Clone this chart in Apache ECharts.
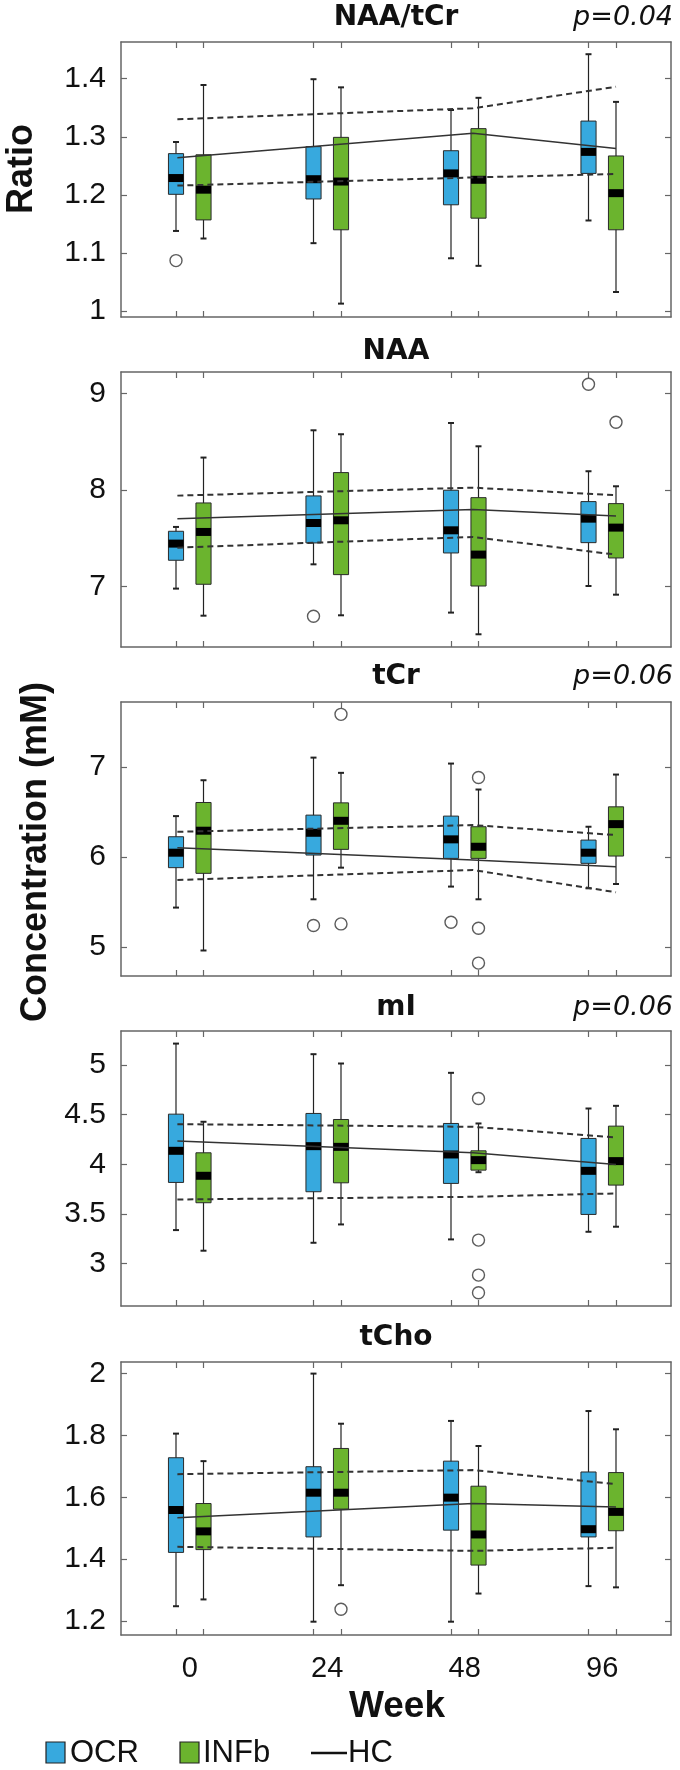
<!DOCTYPE html>
<html><head><meta charset="utf-8">
<script src="https://cdn.jsdelivr.net/npm/echarts@6/dist/echarts.min.js"></script>
<style>html,body{margin:0;padding:0;background:#fff}#c{width:680px;height:1770px}</style>
</head><body><div id="c"></div>
<script>
// ---------- DATA ----------
const weeks = ['0', '24', '48', '96'];
const panelTitles = ['NAA/tCr', 'NAA', 'tCr', 'mI', 'tCho'];
const pValues = ['p=0.04', '', 'p=0.06', 'p=0.06', ''];
const yTicks = [[1, 1.1, 1.2, 1.3, 1.4], [7, 8, 9], [5, 6, 7], [3, 3.5, 4, 4.5, 5], [1.2, 1.4, 1.6, 1.8, 2]];
const yMin = [0.99, 6.37, 4.68, 2.57, 1.155];
const yMax = [1.463, 9.224, 7.72, 5.345, 2.0375];

// box stats per week: [lower whisker, Q1, median, Q3, upper whisker]
const ocrNaaTcr = [[1.138, 1.201, 1.229, 1.271, 1.291], [1.117, 1.193, 1.227, 1.283, 1.399], [1.091, 1.183, 1.237, 1.276, 1.346], [1.156, 1.237, 1.274, 1.327, 1.442]];
const infNaaTcr = [[1.125, 1.157, 1.209, 1.269, 1.389], [1.013, 1.140, 1.223, 1.299, 1.385], [1.078, 1.160, 1.226, 1.314, 1.367], [1.033, 1.140, 1.203, 1.267, 1.360]];
const ocrNaa = [[6.976, 7.270, 7.443, 7.571, 7.616], [7.228, 7.450, 7.657, 7.938, 8.619], [6.727, 7.346, 7.581, 7.997, 8.695], [7.003, 7.453, 7.702, 7.879, 8.194]];
const infNaa = [[6.695, 7.021, 7.564, 7.865, 8.336], [6.699, 7.121, 7.685, 8.180, 8.578], [6.502, 7.003, 7.329, 7.920, 8.453], [6.913, 7.294, 7.609, 7.858, 8.038]];
const ocrTcr = [[5.439, 5.882, 6.048, 6.225, 6.454], [5.531, 6.022, 6.269, 6.465, 7.103], [5.672, 5.985, 6.196, 6.454, 7.037], [5.653, 5.930, 6.048, 6.188, 6.336]];
const infTcr = [[4.963, 5.819, 6.292, 6.605, 6.852], [5.882, 6.085, 6.402, 6.601, 6.934], [5.531, 5.985, 6.114, 6.336, 6.749], [5.701, 6.011, 6.365, 6.557, 6.915]];
const ocrMi = [[3.336, 3.817, 4.136, 4.506, 5.218], [3.208, 3.723, 4.183, 4.513, 5.111], [3.242, 3.807, 4.099, 4.412, 4.923], [3.319, 3.494, 3.934, 4.261, 4.563]];
const infMi = [[3.128, 3.612, 3.884, 4.116, 4.429], [3.393, 3.813, 4.176, 4.452, 5.017], [3.920, 3.941, 4.042, 4.136, 4.412], [3.370, 3.790, 4.032, 4.385, 4.590]];
const ocrTcho = [[1.248, 1.422, 1.559, 1.728, 1.806], [1.198, 1.472, 1.615, 1.699, 2.000], [1.198, 1.494, 1.599, 1.717, 1.847], [1.313, 1.472, 1.497, 1.682, 1.879]];
const infTcho = [[1.270, 1.431, 1.490, 1.580, 1.717], [1.316, 1.562, 1.615, 1.758, 1.838], [1.289, 1.381, 1.480, 1.636, 1.766], [1.309, 1.492, 1.553, 1.680, 1.820]];

// outliers: [week index, value]
const ocrNaaTcrOut = [[0, 1.087]];
const infNaaTcrOut = [];
const ocrNaaOut = [[1, 6.689], [3, 9.097]];
const infNaaOut = [[3, 8.702]];
const ocrTcrOut = [[1, 5.240], [2, 5.277]];
const infTcrOut = [[1, 7.583], [1, 5.258], [2, 6.882], [2, 5.210], [2, 4.823]];
const ocrMiOut = [];
const infMiOut = [[2, 4.664], [2, 3.235], [2, 2.882], [2, 2.704]];
const ocrTchoOut = [];
const infTchoOut = [[1, 1.238]];

// healthy controls: mean and mean±SD at three positions along the week axis
const hcX = [-0.09, 2.06, 3.1];
const hcMeanNaaTcr = [1.264, 1.306, 1.280], hcUpNaaTcr = [1.330, 1.349, 1.386], hcLoNaaTcr = [1.216, 1.230, 1.236];
const hcMeanNaa = [7.702, 7.796, 7.730], hcUpNaa = [7.941, 8.024, 7.945], hcLoNaa = [7.401, 7.512, 7.329];
const hcMeanTcr = [6.103, 5.967, 5.893], hcUpTcr = [6.280, 6.354, 6.244], hcLoTcr = [5.745, 5.856, 5.609];
const hcMeanMi = [4.234, 4.116, 3.998], hcUpMi = [4.405, 4.378, 4.271], hcLoMi = [3.645, 3.672, 3.706];
const hcMeanTcho = [1.534, 1.580, 1.569], hcUpTcho = [1.675, 1.688, 1.643], hcLoTcho = [1.440, 1.427, 1.437];

// ---------- LAYOUT / STYLE ----------
const panelsOCR = [ocrNaaTcr, ocrNaa, ocrTcr, ocrMi, ocrTcho];
const panelsINF = [infNaaTcr, infNaa, infTcr, infMi, infTcho];
const panelsOCROut = [ocrNaaTcrOut, ocrNaaOut, ocrTcrOut, ocrMiOut, ocrTchoOut];
const panelsINFOut = [infNaaTcrOut, infNaaOut, infTcrOut, infMiOut, infTchoOut];
const panelsHCMean = [hcMeanNaaTcr, hcMeanNaa, hcMeanTcr, hcMeanMi, hcMeanTcho];
const panelsHCUp = [hcUpNaaTcr, hcUpNaa, hcUpTcr, hcUpMi, hcUpTcho];
const panelsHCLo = [hcLoNaaTcr, hcLoNaa, hcLoTcr, hcLoMi, hcLoTcho];

const gridTops = [42, 372, 702, 1031, 1362];
const gridHeights = [275, 275, 274, 275, 273];
const titleY = [18, 352, 677, 1008, 1338];
const GRID_LEFT = 121, GRID_RIGHT = 9;
const OFFSET = 0.1, BOX_W = 0.11;
const BLUE = '#37A9DE', GREEN = '#6BB42E', FRAME = '#666', INK = '#111';
const FONT = '"Liberation Sans", Arial, sans-serif';
const WIDE = '"DejaVu Sans", sans-serif';
const xTickPos = [];
weeks.forEach((w, i) => { xTickPos.push(i - OFFSET, i + OFFSET); });

function boxRender(offset, color) {
  return function (params, api) {
    const x = api.value(0) + offset;
    const lo = api.coord([x, api.value(1)]);
    const q1 = api.coord([x, api.value(2)]);
    const md = api.coord([x, api.value(3)]);
    const q3 = api.coord([x, api.value(4)]);
    const hi = api.coord([x, api.value(5)]);
    const bw = api.size([BOX_W, 0])[0];
    const cx = lo[0];
    return {
      type: 'group', children: [
        { type: 'line', shape: { x1: cx, y1: hi[1], x2: cx, y2: lo[1] }, style: { stroke: '#222', lineWidth: 1.2 } },
        { type: 'line', shape: { x1: cx - 3, y1: hi[1], x2: cx + 3, y2: hi[1] }, style: { stroke: '#222', lineWidth: 2 } },
        { type: 'line', shape: { x1: cx - 3, y1: lo[1], x2: cx + 3, y2: lo[1] }, style: { stroke: '#222', lineWidth: 2 } },
        { type: 'rect', shape: { x: cx - bw / 2, y: q3[1], width: bw, height: q1[1] - q3[1] }, style: { fill: color, stroke: '#2a2a2a', lineWidth: 1 } },
        { type: 'rect', shape: { x: cx - bw / 2, y: md[1] - 4, width: bw, height: 8 }, style: { fill: '#000' } }
      ]
    };
  };
}

const grids = [], xAxes = [], yAxes = [], series = [], graphics = [];
panelTitles.forEach((t, g) => {
  grids.push({ left: GRID_LEFT, right: GRID_RIGHT, top: gridTops[g], height: gridHeights[g], show: false });
  ['bottom', 'top'].forEach((pos, k) => {
    xAxes.push({
      type: 'value', gridIndex: g, min: -0.5, max: 3.5, position: pos,
      axisLine: { show: true, onZero: false, lineStyle: { color: FRAME, width: 1.5 } },
      axisTick: { show: true, inside: true, length: 6, customValues: xTickPos, lineStyle: { color: FRAME, width: 1.2 } },
      axisLabel: {
        show: (g === 4 && k === 0), customValues: [0, 1, 2, 3],
        formatter: v => weeks[Math.round(v)], fontSize: 29, color: INK, margin: 19, fontFamily: FONT
      },
      splitLine: { show: false }
    });
  });
  ['left', 'right'].forEach((pos, k) => {
    yAxes.push({
      type: 'value', gridIndex: g, min: yMin[g], max: yMax[g], position: pos,
      axisLine: { show: true, onZero: false, lineStyle: { color: FRAME, width: 1.5 } },
      axisTick: { show: true, inside: true, length: 6, customValues: yTicks[g], lineStyle: { color: FRAME, width: 1.2 } },
      axisLabel: { show: k === 0, customValues: yTicks[g], fontSize: 30, color: INK, margin: 15, fontFamily: FONT },
      splitLine: { show: false }
    });
  });
  const xi = 2 * g, yi = 2 * g;
  series.push({
    name: 'OCR', type: 'custom', xAxisIndex: xi, yAxisIndex: yi, z: 2,
    renderItem: boxRender(-OFFSET, BLUE), encode: { x: 0, y: [1, 2, 3, 4, 5] },
    data: panelsOCR[g].map((s, i) => [i].concat(s))
  });
  series.push({
    name: 'INFb', type: 'custom', xAxisIndex: xi, yAxisIndex: yi, z: 2,
    renderItem: boxRender(OFFSET, GREEN), encode: { x: 0, y: [1, 2, 3, 4, 5] },
    data: panelsINF[g].map((s, i) => [i].concat(s))
  });
  const outStyle = { color: 'rgba(255,255,255,0)', borderColor: '#333', borderWidth: 1.4 };
  series.push({
    name: 'OCR outliers', type: 'scatter', xAxisIndex: xi, yAxisIndex: yi, z: 6,
    symbol: 'circle', symbolSize: 12, itemStyle: outStyle,
    data: panelsOCROut[g].map(d => [d[0] - OFFSET, d[1]])
  });
  series.push({
    name: 'INFb outliers', type: 'scatter', xAxisIndex: xi, yAxisIndex: yi, z: 6,
    symbol: 'circle', symbolSize: 12, itemStyle: outStyle,
    data: panelsINFOut[g].map(d => [d[0] + OFFSET, d[1]])
  });
  series.push({
    name: 'HC', type: 'line', xAxisIndex: xi, yAxisIndex: yi, z: 5, showSymbol: false,
    lineStyle: { color: '#333', width: 1.5 }, data: panelsHCMean[g].map((v, i) => [hcX[i], v])
  });
  [panelsHCUp, panelsHCLo].forEach((arr, j) => {
    series.push({
      name: j ? 'HC −SD' : 'HC +SD', type: 'line', xAxisIndex: xi, yAxisIndex: yi, z: 5, showSymbol: false,
      lineStyle: { color: '#333', width: 2, type: [6, 4] }, data: arr[g].map((v, i) => [hcX[i], v])
    });
  });
  graphics.push({
    type: 'text', x: GRID_LEFT + (680 - GRID_LEFT - GRID_RIGHT) / 2, y: titleY[g],
    style: { text: t, font: 'bold 28px ' + WIDE, fill: INK, textAlign: 'center', textVerticalAlign: 'middle', align: 'center', verticalAlign: 'middle' }
  });
  if (pValues[g]) {
    graphics.push({
      type: 'text', x: 673, y: titleY[g],
      style: { text: pValues[g], font: 'oblique 27px ' + WIDE, fill: INK, textAlign: 'right', textVerticalAlign: 'middle', align: 'right', verticalAlign: 'middle' }
    });
  }
});

// axis names
graphics.push({
  type: 'text', x: 22, y: 169, rotation: Math.PI / 2,
  style: { text: 'Ratio', font: 'bold 36px ' + FONT, fill: INK, textAlign: 'center', textVerticalAlign: 'middle', align: 'center', verticalAlign: 'middle' }
});
graphics.push({
  type: 'text', x: 36, y: 852, rotation: Math.PI / 2,
  style: { text: 'Concentration (mM)', font: 'bold 36px ' + FONT, fill: INK, textAlign: 'center', textVerticalAlign: 'middle', align: 'center', verticalAlign: 'middle' }
});
graphics.push({
  type: 'text', x: 397, y: 1707,
  style: { text: 'Week', font: 'bold 37px ' + FONT, fill: INK, textAlign: 'center', textVerticalAlign: 'middle', align: 'center', verticalAlign: 'middle' }
});
// legend
graphics.push({ type: 'rect', shape: { x: 46, y: 1742, width: 19, height: 21 }, style: { fill: BLUE, stroke: '#222', lineWidth: 1.2 } });
graphics.push({ type: 'text', x: 70, y: 1753, style: { text: 'OCR', font: '31px ' + FONT, fill: INK, textVerticalAlign: 'middle', verticalAlign: 'middle' } });
graphics.push({ type: 'rect', shape: { x: 180, y: 1742, width: 19, height: 21 }, style: { fill: GREEN, stroke: '#222', lineWidth: 1.2 } });
graphics.push({ type: 'text', x: 203, y: 1753, style: { text: 'INFb', font: '31px ' + FONT, fill: INK, textVerticalAlign: 'middle', verticalAlign: 'middle' } });
graphics.push({ type: 'line', shape: { x1: 311, y1: 1753, x2: 347, y2: 1753 }, style: { stroke: '#111', lineWidth: 2.5 } });
graphics.push({ type: 'text', x: 348, y: 1753, style: { text: 'HC', font: '31px ' + FONT, fill: INK, textVerticalAlign: 'middle', verticalAlign: 'middle' } });

const chart = echarts.init(document.getElementById('c'), null, { renderer: 'canvas' });
chart.setOption({
  animation: false,
  backgroundColor: '#fff',
  grid: grids, xAxis: xAxes, yAxis: yAxes, series: series, graphic: graphics
});
</script></body></html>
